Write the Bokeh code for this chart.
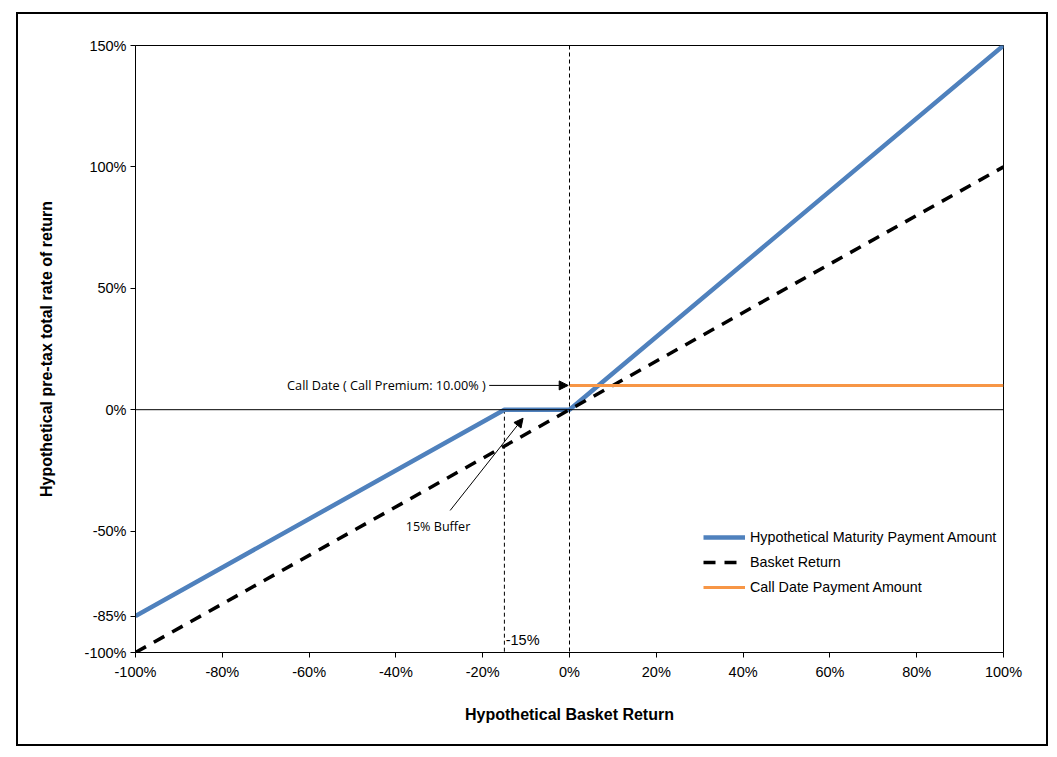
from bokeh.plotting import figure
from bokeh.models import (FixedTicker, Arrow, NormalHead, Span, Label, Legend,
                          LegendItem, Range1d)
from bokeh.embed import file_html
from bokeh.resources import INLINE

# data
maturity_x = [-100, -15, 0, 100]
maturity_y = [-85, 0, 0, 150]
basket_x = [-100, 100]
basket_y = [-100, 100]
call_x = [0, 100]
call_y = [10, 10]
x_ticks = [-100, -80, -60, -40, -20, 0, 20, 40, 60, 80, 100]
y_ticks = [-100, -85, -50, 0, 50, 100, 150]
buffer_level = -15

FONT = "Liberation Sans"
NOTE_FONT = "Open Sans"

p = figure(width=1032, height=734, output_backend="svg", toolbar_location=None,
           x_range=Range1d(-100, 100), y_range=Range1d(-100, 150),
           min_border_left=117, min_border_top=31, min_border_right=47,
           min_border_bottom=96)
p.margin = (12, 0, 0, 16)
p.styles = {"border": "2px solid black"}
p.background_fill_color = "white"
p.border_fill_color = "white"
p.outline_line_color = "black"
p.outline_line_width = 1
p.xgrid.visible = False
p.ygrid.visible = False

p.xaxis.ticker = FixedTicker(ticks=x_ticks)
p.yaxis.ticker = FixedTicker(ticks=y_ticks)
p.xaxis.major_label_overrides = {t: f"{t}%" for t in x_ticks}
p.yaxis.major_label_overrides = {t: f"{t}%" for t in y_ticks}
for ax in (p.xaxis, p.yaxis):
    ax.minor_tick_line_color = None
    ax.major_tick_in = 0
    ax.major_tick_out = 5
    ax.major_label_text_font = FONT
    ax.major_label_text_font_size = "14.5px"
    ax.major_label_text_color = "black"
    ax.axis_line_color = "black"
    ax.major_tick_line_color = "black"
    ax.axis_label_text_font = FONT
    ax.axis_label_text_font_style = "bold"
    ax.axis_label_text_font_size = "16px"
    ax.axis_label_text_color = "black"
p.xaxis.axis_label = "Hypothetical Basket Return"
p.yaxis.axis_label = "Hypothetical pre-tax total rate of return"
p.xaxis.major_label_standoff = 6
p.yaxis.major_label_standoff = 4
p.xaxis.axis_label_standoff = 23
p.yaxis.axis_label_standoff = 27

# reference lines
p.add_layout(Span(location=0, dimension="width", line_color="black", line_width=1))
p.add_layout(Span(location=0, dimension="height", line_color="black", line_width=1,
                  line_dash="4 3"))
p.segment(x0=[buffer_level], y0=[0], x1=[buffer_level], y1=[-100],
          line_color="black", line_width=1, line_dash="4 3")

r_mat = p.line(maturity_x, maturity_y, line_color="#4F81BD", line_width=4.5)
r_bas = p.line(basket_x, basket_y, line_color="black", line_width=3.5, line_dash="12 9")
r_call = p.line(call_x, call_y, line_color="#F79646", line_width=3)

legend = Legend(items=[
    LegendItem(label="Hypothetical Maturity Payment Amount", renderers=[r_mat]),
    LegendItem(label="Basket Return", renderers=[r_bas]),
    LegendItem(label="Call Date Payment Amount", renderers=[r_call]),
], location=(564, 51))
legend.border_line_alpha = 0
legend.background_fill_alpha = 0
legend.label_text_font = FONT
legend.label_text_font_size = "14.3px"
legend.label_text_color = "black"
legend.glyph_width = 42
legend.label_standoff = 5
legend.spacing = 5
legend.padding = 4
p.add_layout(legend)

# annotations
p.add_layout(Arrow(end=NormalHead(size=9, fill_color="black", line_color="black"),
                   x_start=-18.5, y_start=10, x_end=-0.3, y_end=10,
                   line_color="black", line_width=1))
p.add_layout(Label(x=-19.3, y=10, text="Call Date ( Call Premium: 10.00% )",
                   text_font=NOTE_FONT, text_font_size="12.7px", text_color="black",
                   text_align="right", text_baseline="middle"))
p.add_layout(Arrow(end=NormalHead(size=9, fill_color="black", line_color="black"),
                   x_start=-27.5, y_start=-41.5, x_end=-10.7, y_end=-3.5,
                   line_color="black", line_width=1))
p.add_layout(Label(x=-30.3, y=-48, text="15% Buffer",
                   text_font=NOTE_FONT, text_font_size="12.6px", text_color="black",
                   text_align="center", text_baseline="middle"))
p.add_layout(Label(x=buffer_level + 0.3, y=-95, text=f"{buffer_level}%",
                   text_font=FONT, text_font_size="14.5px", text_color="black",
                   text_align="left", text_baseline="middle"))

open("out.html", "w").write(file_html(p, INLINE))
